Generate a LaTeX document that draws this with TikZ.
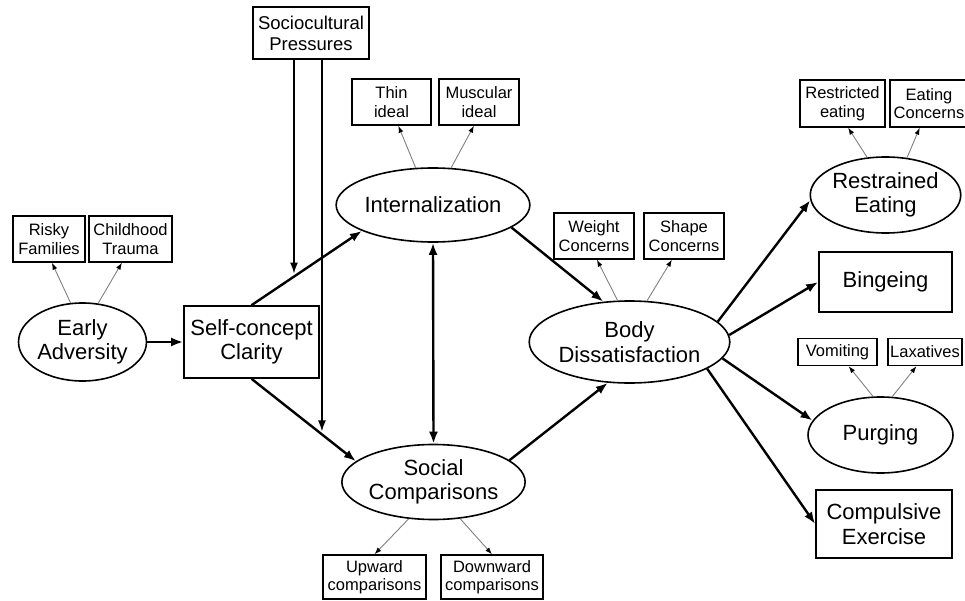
\documentclass[tikz,border=0pt]{standalone}
\usepackage{fontspec}
\setmainfont{Liberation Sans}
\usetikzlibrary{shapes.geometric}
\usetikzlibrary{arrows.meta}
\tikzset{
  bigtip/.tip={Latex[length=12pt,width=9pt]},
  smalltip/.tip={Latex[length=7pt,width=5pt,color=black]},
  indbox/.style={draw, line width=1.4pt, inner sep=0pt, align=center, font=\fontsize{16.5}{18.5}\selectfont},
  bigbox/.style={draw, line width=1.6pt, inner sep=0pt, align=center, font=\fontsize{22}{24.5}\selectfont},
  latent/.style={draw, ellipse, line width=1.6pt, inner sep=0pt, align=center, font=\fontsize{22}{24.5}\selectfont},
  mainarr/.style={line width=2.4pt, -bigtip},
  modarr/.style={line width=1.6pt, -{Latex[length=11pt,width=8pt]}},
  indarr/.style={draw=gray, line width=0.9pt, -smalltip}
}
\newcommand{\ind}[6]{\node[indbox, minimum width=#4pt, minimum height=#5pt] (#1) at ( #2 , #3 ) {#6};}
\newcommand{\lat}[6]{\node[latent, minimum width=#4pt, minimum height=#5pt] (#1) at ( #2 , #3 ) {#6};}
\newcommand{\obs}[6]{\node[bigbox, minimum width=#4pt, minimum height=#5pt] (#1) at ( #2 , #3 ) {#6};}

\begin{document}
\begin{tikzpicture}[x=1pt, y=-1pt]
        \useasboundingbox (0,0) rectangle (965,601);
        % sociocultural pressures
        \node[bigbox, minimum width=116pt, minimum height=52pt, font=\fontsize{18.5}{21}\selectfont] (socio) at (311,33) {Sociocultural\\Pressures};
        % early adversity and indicators
        \lat{early}{82.5}{342}{111}{78}{Early\\Adversity}
        \ind{risky}{49}{239}{72}{46}{Risky\\Families}
        \ind{trauma}{130.5}{239}{83}{46}{Childhood\\Trauma}
        \obs{self}{251.5}{342}{135}{72}{Self-concept\\Clarity}
        % internalization and indicators
        \lat{intern}{433}{205}{147}{74}{Internalization}
        \ind{thin}{391.5}{102}{79}{46}{Thin\\ideal}
        \ind{musc}{479}{102}{80}{46}{Muscular\\ideal}
        % social comparisons and indicators
        \lat{social}{433.5}{482}{147}{75}{Social\\Comparisons}
        \ind{upward}{374.5}{577}{103}{44}{Upward\\comparisons}
        \ind{downward}{492}{577}{102}{44}{Downward\\comparisons}
        % body dissatisfaction and indicators
        \lat{body}{629.5}{342}{157}{82}{Body\\Dissatisfaction}
        \ind{weight}{594}{236}{80}{46}{Weight\\Concerns}
        \ind{shape}{684}{236}{80}{46}{Shape\\Concerns}
        % outcomes
        \lat{restr}{885.5}{195}{147}{76}{Restrained\\Eating}
        \ind{restricted}{842.5}{103.5}{85}{47}{Restricted\\eating}
        \ind{eatconc}{929}{103.5}{78}{47}{Eating\\Concerns}
        \obs{binge}{885.5}{282}{133}{60}{Bingeing}
        \lat{purging}{880.5}{435}{145}{76}{Purging}
        \ind{vomit}{837.5}{352}{79}{27}{Vomiting}
        \ind{laxat}{925}{352}{74}{27}{Laxatives}
        \obs{compul}{884}{524}{136}{68}{Compulsive\\Exercise}

        % structural paths
        \draw[mainarr] (early.east) -- (self.west);
        \draw[mainarr] (self.north) -- (intern.200) coordinate[pos=0.385] (mod1);
        \draw[mainarr] (self.south) -- (social.165) coordinate[pos=0.675] (mod2);
        \draw[line width=2.4pt, bigtip-bigtip] (intern.south) -- (social.north);
        \draw[mainarr] (intern.344) -- (body.123);
        \draw[mainarr] (social.16) -- (body.242);
        \draw[mainarr] (body.13) -- (restr.184);
        \draw[mainarr] (body.4) -- (binge.west);
        \draw[mainarr] (body.-10) -- (purging.168);
        \draw[mainarr] (body.-19) -- (compul.west);
        % moderation
        \draw[modarr, shorten >=3pt] (socio.south -| mod1) -- (mod1);
        \draw[modarr, shorten >=3pt] (socio.south -| mod2) -- (mod2);

        % indicator paths
        \draw[indarr] (early.107) -- (risky.277);
        \draw[indarr] (early.68) -- (trauma.250);
        \draw[indarr] (intern.115) -- (thin.286);
        \draw[indarr] (intern.64) -- (musc.258);
        \draw[indarr] (social.236) -- (upward.north);
        \draw[indarr] (social.306) -- (downward.north);
        \draw[indarr] (body.106) -- (weight.277);
        \draw[indarr] (body.67) -- (shape.243);
        \draw[indarr] (restr.116) -- (restricted.283);
        \draw[indarr] (restr.60) -- (eatconc.249);
        \draw[indarr] (purging.101) -- (vomit.308);
        \draw[indarr] (purging.73) -- (laxat.239);
    \end{tikzpicture}
\end{document}
